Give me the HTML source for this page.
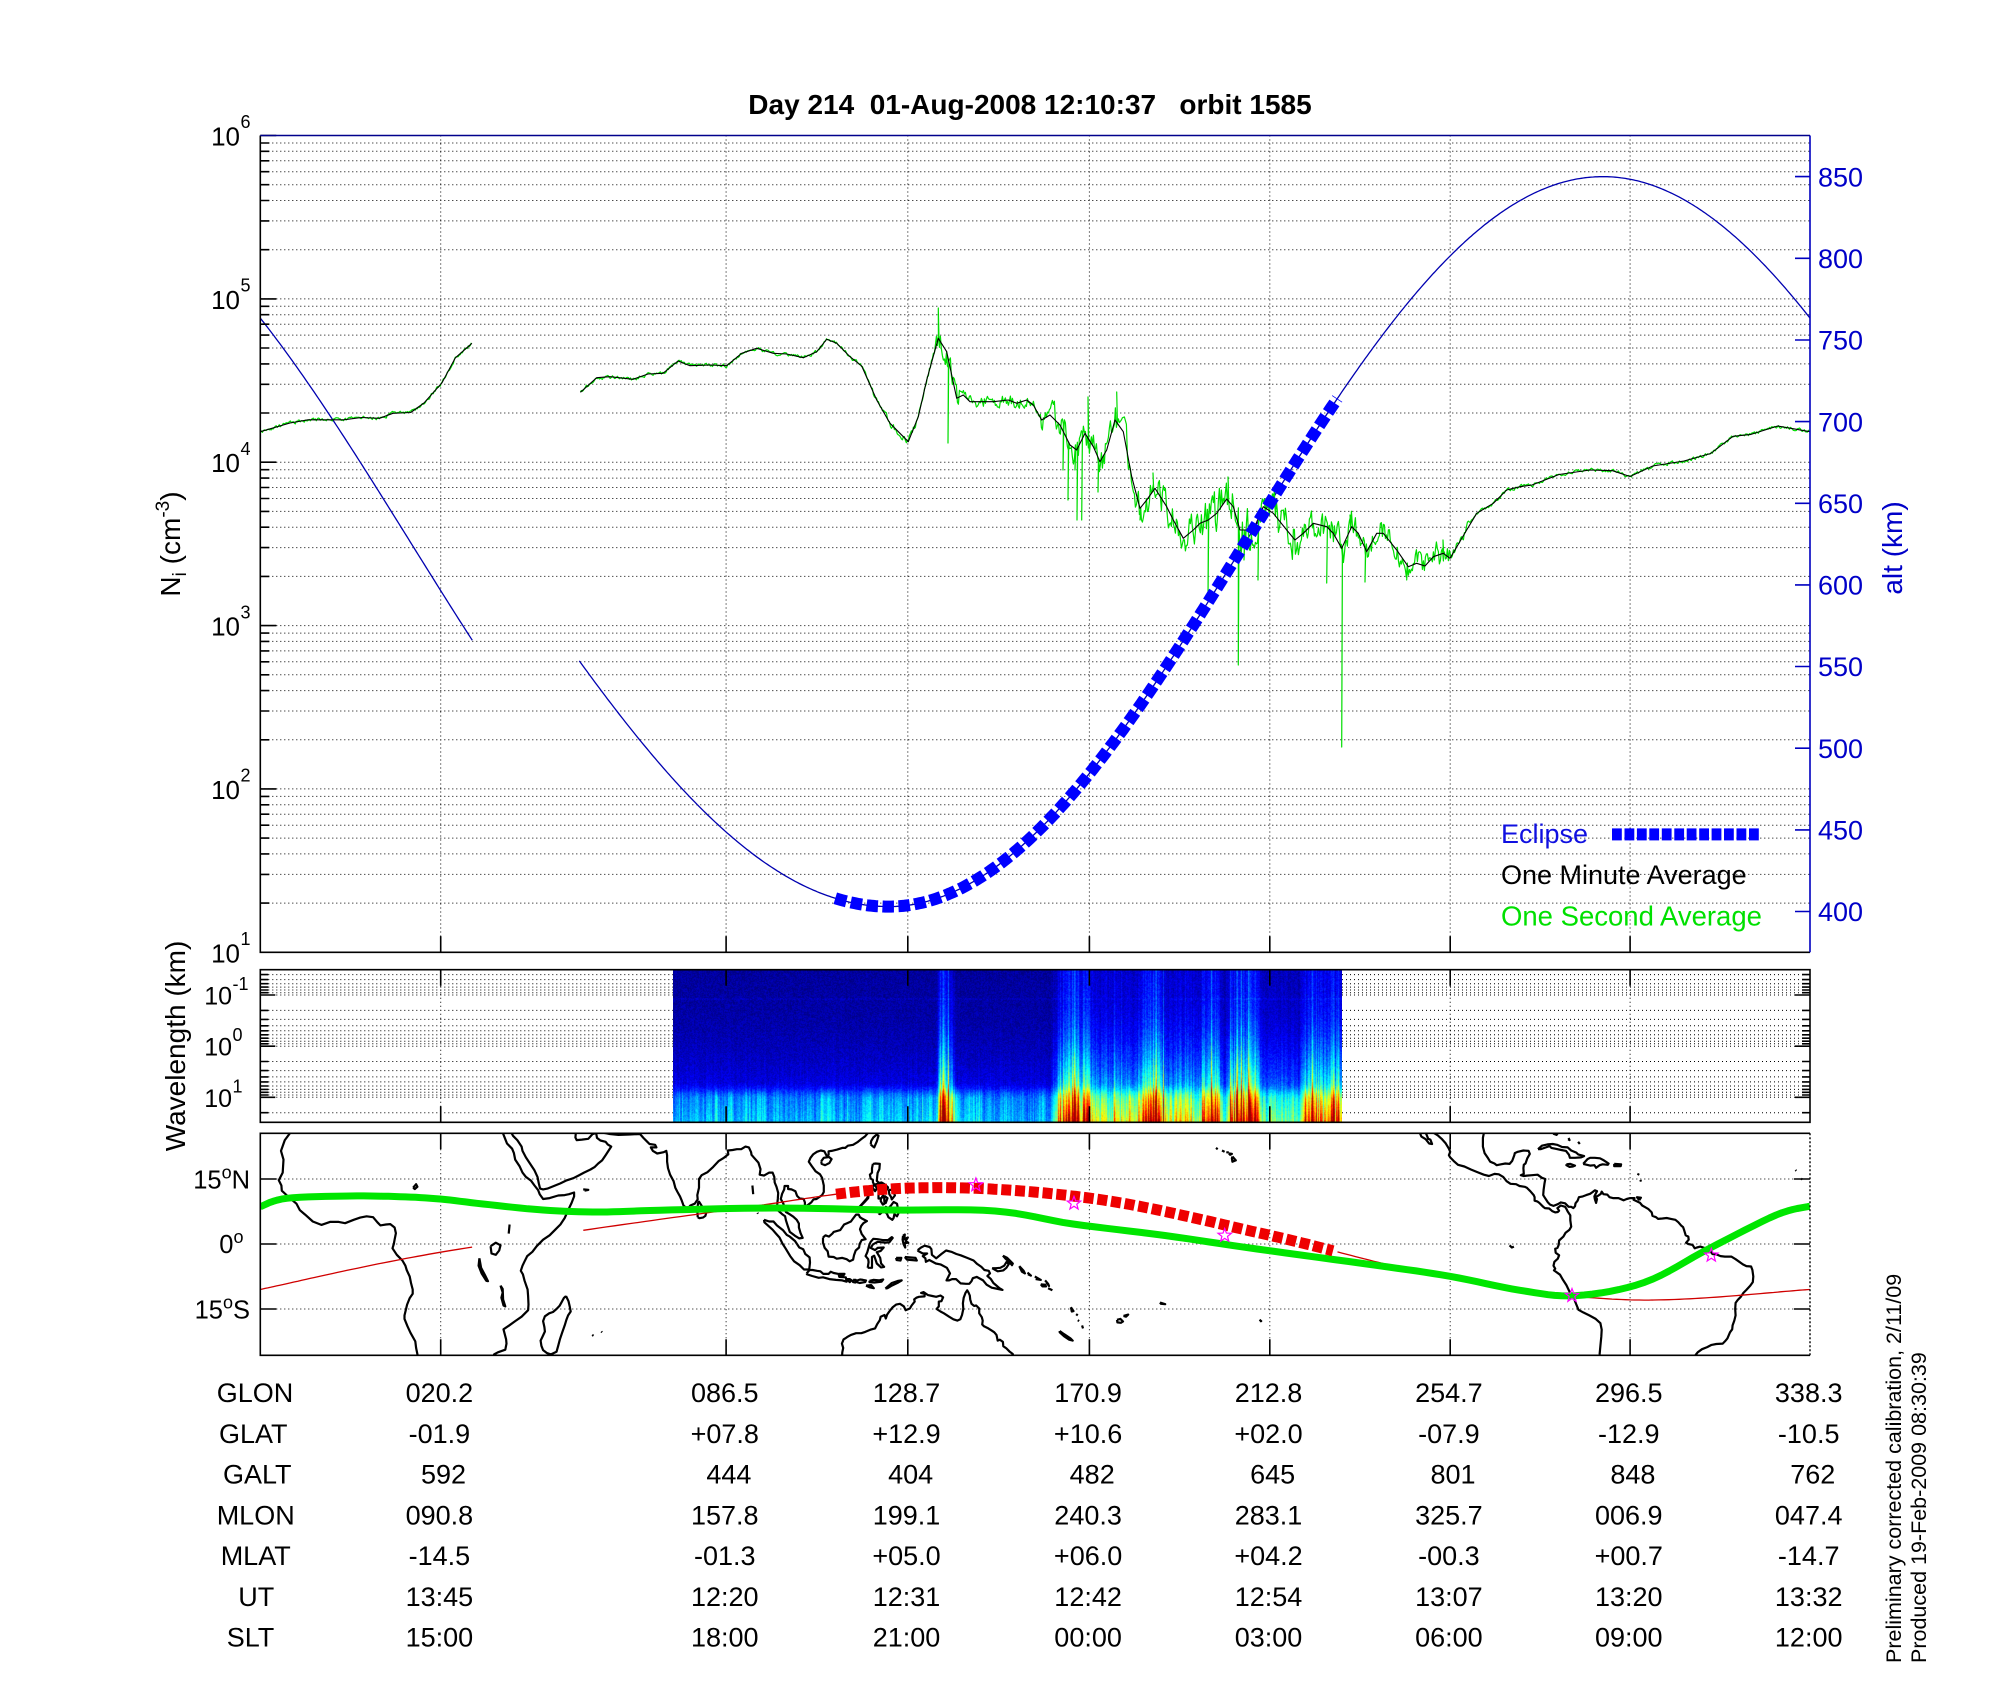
<!DOCTYPE html>
<html><head><meta charset="utf-8"><title>Orbit 1585</title>
<style>
html,body{margin:0;padding:0;background:#fff;}
#wrap{position:relative;width:2000px;height:1700px;overflow:hidden;background:#fff;}
#spec{position:absolute;left:673px;top:970px;width:669px;height:152px;}
#main{position:absolute;left:0;top:0;}
text{font-family:"Liberation Sans",Arial,Helvetica,sans-serif;white-space:pre;}
</style></head><body><div id="wrap">
<canvas id="spec" width="669" height="152"></canvas>
<svg id="main" width="2000" height="1700" viewBox="0 0 2000 1700" xmlns="http://www.w3.org/2000/svg">
<defs>
<clipPath id="cm"><rect x="260.3" y="1133.3" width="1549.7" height="222"/></clipPath>
<clipPath id="cp"><rect x="260.3" y="135.5" width="1549.7" height="816.8"/></clipPath>
</defs>
<g id="grid" stroke="#000" stroke-width="1" stroke-dasharray="1 3" fill="none"></g>
<g id="map" clip-path="url(#cm)" fill="none"></g>
<g id="plot" clip-path="url(#cp)" fill="none"></g>
<g id="axes" fill="none"></g>

<text x="748.3" y="114" font-size="28" font-weight="bold" xml:space="preserve">Day 214  01-Aug-2008 12:10:37   orbit 1585</text>

<g font-size="26" fill="#000">
<text x="240" y="145.5" text-anchor="end">10</text><text x="240.5" y="128.2" font-size="18">6</text>
<text x="240" y="308.9" text-anchor="end">10</text><text x="240.5" y="291.6" font-size="18">5</text>
<text x="240" y="472.2" text-anchor="end">10</text><text x="240.5" y="454.9" font-size="18">4</text>
<text x="240" y="635.6" text-anchor="end">10</text><text x="240.5" y="618.3" font-size="18">3</text>
<text x="240" y="798.9" text-anchor="end">10</text><text x="240.5" y="781.6" font-size="18">2</text>
<text x="240" y="962.3" text-anchor="end">10</text><text x="240.5" y="945" font-size="18">1</text>
</g>
<text transform="translate(180,544) rotate(-90)" font-size="28" text-anchor="middle">N<tspan font-size="19" dy="6">i</tspan><tspan dy="-6"> (cm</tspan><tspan font-size="19" dy="-11">-3</tspan><tspan dy="11">)</tspan></text>

<g font-size="27" fill="#0000c8">
<text x="1818" y="186.4">850</text>
<text x="1818" y="268">800</text>
<text x="1818" y="349.6">750</text>
<text x="1818" y="431.3">700</text>
<text x="1818" y="512.9">650</text>
<text x="1818" y="594.6">600</text>
<text x="1818" y="676.2">550</text>
<text x="1818" y="757.9">500</text>
<text x="1818" y="839.6">450</text>
<text x="1818" y="921.2">400</text>
</g>
<text transform="translate(1902,548) rotate(-90)" font-size="28" text-anchor="middle" fill="#0000c8">alt (km)</text>

<text x="1501" y="843" font-size="27" fill="#1010e0">Eclipse</text>
<text x="1501" y="884.2" font-size="27" fill="#000">One Minute Average</text>
<text x="1501" y="925.6" font-size="27.5" fill="#00e000">One Second Average</text>
<g id="leg" fill="#0000ff"></g>

<g font-size="25">
<text x="232" y="1004.5" text-anchor="end">10</text><text x="232.5" y="990" font-size="18">-1</text>
<text x="232" y="1055.7" text-anchor="end">10</text><text x="232.5" y="1041.2" font-size="18">0</text>
<text x="232" y="1106.8" text-anchor="end">10</text><text x="232.5" y="1092.3" font-size="18">1</text>
</g>
<text transform="translate(185,1046) rotate(-90)" font-size="28" text-anchor="middle">Wavelength (km)</text>

<g font-size="25.5">
<text x="250" y="1188.5" text-anchor="end">15<tspan font-size="18" dy="-10">o</tspan><tspan dy="10">N</tspan></text>
<text x="243.5" y="1253.2" text-anchor="end">0<tspan font-size="18" dy="-10">o</tspan></text>
<text x="250" y="1318.5" text-anchor="end">15<tspan font-size="18" dy="-10">o</tspan><tspan dy="10">S</tspan></text>
</g>

<g font-size="27">
<text x="216.7" y="1402.2">GLON</text>
<text x="219" y="1443">GLAT</text>
<text x="223" y="1483.7">GALT</text>
<text x="216.7" y="1524.5">MLON</text>
<text x="220.7" y="1565.2">MLAT</text>
<text x="238.3" y="1606">UT</text>
<text x="226.7" y="1646.7">SLT</text>
</g>
<g font-size="27" text-anchor="middle" id="tbl"></g>

<text transform="translate(1901,1663) rotate(-90)" font-size="21.5">Preliminary corrected calibration, 2/11/09</text>
<text transform="translate(1926,1663) rotate(-90)" font-size="21.5">Produced 19-Feb-2009 08:30:39</text>
</svg></div>
<script>
(function(){
var NS='http://www.w3.org/2000/svg';
function mk(par,tag,at){var e=document.createElementNS(NS,tag);for(var k in at)e.setAttribute(k,at[k]);par.appendChild(e);return e;}
function pth(p){var s='';for(var i=0;i<p.length;i++){s+=(i?'L':'M')+p[i][0].toFixed(1)+' '+p[i][1].toFixed(1);}return s;}
var seed=20080801;
function R(){seed|=0;seed=seed+0x6D2B79F5|0;var t=Math.imul(seed^seed>>>15,1|seed);t=t+Math.imul(t^t>>>7,61|t)^t;return((t^t>>>14)>>>0)/4294967296;}
function cr(P,st){var o=[];for(var i=0;i<P.length-1;i++){var p0=P[Math.max(0,i-1)],p1=P[i],p2=P[i+1],p3=P[Math.min(P.length-1,i+2)];
 for(var s=0;s<st;s++){var t=s/st,t2=t*t,t3=t2*t;var q=[0,0];for(var j=0;j<2;j++){q[j]=0.5*((2*p1[j])+(-p0[j]+p2[j])*t+(2*p0[j]-5*p1[j]+4*p2[j]-p3[j])*t2+(-p0[j]+3*p1[j]-3*p2[j]+p3[j])*t3);}o.push(q);}}
 o.push(P[P.length-1]);return o;}
function interp(P,x){for(var i=0;i<P.length-1;i++){if(x<=P[i+1][0]){var t=(x-P[i][0])/(P[i+1][0]-P[i][0]);return P[i][1]+t*(P[i+1][1]-P[i][1]);}}return P[P.length-1][1];}

var L=260.3,Rt=1810,T=135.5,B=952.3;
var XG=[440.7,726.1,907.8,1089.4,1269.8,1450.2,1630.1];
function yN(v){return T+(6-Math.log10(v))*163.36;}
var ST=969.7,SB=1122.3;function yS(v){return 995+(Math.log10(v)+1)*51.15;}
var MT=1133.3,MB=1355.3;
function X(lon){return L+(((lon-338.3)%360+360)%360)*4.305;}
function Y(lat){return 1244-lat*4.33;}
var grid=document.getElementById('grid'),axes=document.getElementById('axes'),plot=document.getElementById('plot'),map=document.getElementById('map');

var d='';
for(var k=1;k<=5;k++)for(var m=1;m<=9;m++){var y=yN(m*Math.pow(10,k));d+='M'+L+' '+y.toFixed(1)+'H'+Rt;}
XG.forEach(function(x){d+='M'+x+' '+T+'V'+B;});
var sv=[],svm=[];
for(var k=-2;k<=1;k++)for(var m=1;m<=9;m++){var v=m*Math.pow(10,k);var y=yS(v);if(y>ST+1&&y<SB-1){sv.push(y);svm.push(m==1);}}
sv.forEach(function(y){d+='M'+L+' '+y.toFixed(1)+'H673M1342 '+y.toFixed(1)+'H'+Rt;});
XG.forEach(function(x){if(x<673||x>1342)d+='M'+x+' '+ST+'V'+SB;});
[15,0,-15].forEach(function(l){d+='M'+L+' '+Y(l).toFixed(1)+'H'+Rt;});
XG.forEach(function(x){d+='M'+x+' '+MT+'V'+MB;});
mk(grid,'path',{d:d});

var C=[
[-13,27.5,-14.5,26,-16,24,-16.9,21.5,-16.3,19.5,-16.5,16.5,-17.4,14.7,-16.8,13.5,-16.7,12.3,-15.5,11.2,-14.5,10.3,-13.3,9.3,-12.5,7.8,-11.3,6.8,-9.5,5.2,-7.5,4.4,-5.5,5.1,-3.5,5.1,-2,4.8,0,5.6,1.5,6.1,3,6.4,4.5,6.2,5.5,5,6.2,4.3,7.5,4.5,8.5,4.6,9.5,3.8,9.8,2.5,9.5,1,9.3,0,9,-1,10,-2.5,11.3,-3.8,12,-5,12.3,-6,13,-7.5,13.3,-9,13.7,-10.5,13.7,-11.5,13,-12.5,12.4,-14,11.8,-16.5,11.8,-17.3,12.5,-19,13.2,-20.5,14.3,-22.5,14.5,-24,14.9,-26,15.2,-27.5],
[32.7,-27,32.9,-26,32.6,-25.5,33.5,-25,35.2,-24.4,35.5,-23,35.4,-22,35,-20.5,34.8,-19.7,36,-18.9,37.5,-17.8,39,-16.8,40.5,-15.3,40.6,-14,40.5,-12,40.4,-10.5,39.7,-8.5,39.3,-7,38.8,-6.2,39.2,-5,39.7,-4,40.3,-2.8,41.5,-1.8,42.5,-0.5,44,1,45.5,2,47,3.5,48,4.5,49,6,49.9,8,50.6,9.5,51.2,11,51.2,11.9,50,11.5,49,11.3,47.5,11.2,45.5,10.6,44,10.4,43.2,11.5,42.8,12.5,42,13.5,41.2,14.6,40,15.5,39.2,16.5,38.5,18,37.5,19.5,37.2,21,36.8,22,35.6,23.2,35.2,24.2,34.7,25.5,34,27,33.5,28],
[35,28,35.5,27.5,36.3,26.3,37,25,38,24,39,22.5,39.2,21.5,40,20,41,18.5,42,17,42.7,15.5,43,14,43.3,12.8,44,12.6,45,12.8,46.5,13.4,48,14,49.5,14.7,51,15.2,52.2,15.8,53.5,16.5,55,17.2,56,17.8,56.8,18.6,57.7,19.3,58.5,20.5,59.3,21.7,59.8,22.5,59,23,58.5,23.6,57.3,23.9,56.5,24.5,56.3,25.7,56.1,26.3,56.5,27],
[56.2,25.6,55.5,25.4,54.5,24.3,53,24.1,51.8,24,51.5,24.6,51.6,25.8,51.3,26.5],
[56.8,27,57.3,25.8,58.5,25.6,59.5,25.4,61.5,25.2,64,25.3,66.5,25.4,67.3,24.5,68.2,23.6,68.7,23.1,70,22.9,70.3,22.3,69,22.3,69.5,21.5,70.5,20.9,72,21.2,72.6,21.5,72.8,20.5,72.8,19,73,17.5,73.5,16,74.3,14.5,74.7,13,75.2,12,75.8,11,76.2,10,76.6,8.9,77.5,8.1,78.2,8.9,79.2,9.3,79.9,10.3,79.8,11.3,80.2,13,80.2,15,80.8,15.9,82.2,16.6,83.5,17.8,84.8,19.2,86,19.9,87,20.7,86.9,21.6,88,21.7,89,21.9,90,21.9,91,22.5,91.8,22.3,92.3,21.2,92.4,20.6,93,19.9,94,18.8,94.5,17.3,94.3,16,95.3,15.8,96.5,16.5,97.3,16.5,97.7,15.5,97.8,14.2,98.2,13.2,98.6,11.8,98.5,10.4,98.3,8.5,98.4,7.9,99.5,6.9,100.2,6.4,100.4,5.5,100.8,4.2,101.3,2.8,102.5,1.9,103.5,1.3,104.3,1.4,103.8,2.5,103.4,3.8,103.4,4.7,102.9,5.6,102.1,6.3,101.2,6.9,100.4,7.4,100.1,8.2,99.8,9.3,99.2,10.4,99.5,11.6,100,12.6,100.1,13.4,100.9,13.4,100.9,12.7,101.7,12.6,102.6,12.2,103,11.1,103.6,10.5,104.5,10.4,104.8,9.6,104.8,8.6,105.5,9,106.3,9.6,106.8,10.3,107.5,10.4,108.8,11.3,109.2,12,109.2,13.5,108.8,15.3,108.3,16.1,107.3,16.8,106.4,18,105.7,19,106.1,19.9,106.7,20.7,107.6,21.3,108.5,21.6,109.3,21.4,109.9,20.3,110.3,20.6,110.3,21.4,111,21.5,112.3,21.8,113.5,22.2,114.2,22.2,114.8,22.7,116,22.9,117,23.5,118,24.3,118.8,24.9,119.5,25.7,119.7,26.5,120.2,27.2],
[79.9,6.2,79.8,8,80,9.5,80.2,9.8,80.9,8.7,81.5,7.6,81.9,7.3,81.7,6.5,81.1,6.1,80.3,5.95,79.9,6.2],
[108.6,19.1,109.2,19.9,110.4,20.1,111,19.6,110.5,18.7,109.5,18.2,108.7,18.5,108.6,19.1],
[120.1,23,120.2,23.8,120.7,24.6,121.5,25.3,121.9,25,121.5,23.7,120.9,22.3,120.5,22.6,120.1,23],
[120.6,18.5,121.2,18.6,122.2,18.5,122.1,17.3,121.7,16.4,121.6,15.6,121.5,14.6,122,14.1,122.6,14.2,123.3,13.8,124.1,13.1,124,12.6,123.3,13,122.7,13.4,122.6,13.9,121.7,13.9,120.9,13.7,120.6,14.3,120.6,14.8,120.1,15.1,119.9,16,120.4,16.5,120.4,17.5,120.6,18.5],
[121.9,7,122.1,7.7,122.8,7.7,123.5,7.9,123.6,8.6,124.2,8.3,124.8,8.9,125.4,9.7,126.2,9.3,126.4,8.2,126.6,7.2,126.2,6.4,125.6,6.9,125.4,6,125.1,5.6,124.2,6.2,123.9,6.9,123.5,7.4,122.8,7.4,122.2,6.9,121.9,7],
[124.3,12.5,125.3,12.5,125.7,11.2,125,10.3,124.8,10.9,124.4,11.5,124.3,12.5],
[121.9,11.9,122.6,11.6,123.1,11.1,122.5,10.5,121.9,10.5,121.9,11.9],
[122.5,10.8,123.2,10.9,123.3,9.3,122.9,9.1,122.4,9.9,122.5,10.8],
[123.3,11.1,124,10.6,123.6,9.5,123.3,10,123.3,11.1],
[117.2,8.3,117.8,8.8,118.6,9.6,119.5,10.6,119.6,11.3,119.2,10.5,118.2,9.4,117.2,8.3],
[120.3,13.4,121.2,13.5,121.5,12.8,121.1,12.2,120.3,13.4],
[109,1.5,109.6,2,110.4,1.7,111.2,2.4,111.5,2.8,113,3.2,113.9,4.5,114.6,4.8,115.5,5.2,116,5.9,116.7,6.8,117.3,6.8,117.6,6.2,118.2,5.8,119.2,5.3,118.4,4.8,117.9,4.2,117.6,3.4,118,2.3,118.9,1.1,118,0.9,117.5,0,117.4,-0.8,116.6,-1.5,116.2,-2.6,116,-3.6,115.2,-4,114.5,-3.5,113.5,-3.2,112.2,-3.4,111.5,-3,110.3,-2.9,110.1,-1.7,109.4,-0.9,109,0.3,109,1.5],
[119.4,-5.5,119.6,-4.2,119.5,-3.5,118.9,-2.8,119.3,-1.9,119.8,-0.1,120.1,0.5,120.7,1.2,121.7,1.1,122.9,0.9,124.1,0.9,125,1.6,125.2,1.4,124.4,0.4,123.5,0.3,121.7,0.5,120.6,-0.1,120.1,-0.9,121.1,-1.4,121.7,-0.9,123.1,-0.8,122.4,-1.6,121.5,-1.9,122.3,-3.2,122.5,-4.5,123.2,-5.3,122.5,-5.4,121.5,-4.5,120.9,-2.7,120.4,-3,120.4,-5.5,119.4,-5.5],
[127.6,1.9,128,2.2,127.9,1.1,128.7,1.5,128.2,0.7,128.8,0.3,128,0.2,128.1,-0.8,127.7,0,127.5,1,127.6,1.9],
[128,-3,130.5,-3.2,130.8,-3.8,128.5,-3.6,128,-3],[126,-3.2,127.2,-3.2,127,-3.8,126.1,-3.7,126,-3.2],
[95.3,5.6,96.5,5.2,97.5,5.2,98.3,4.3,99.7,3.2,100.6,2.1,101.3,1.7,102.5,0.7,103.5,-0.8,104.4,-1.2,104.9,-2.3,105.9,-3.1,106,-4.3,105.8,-5.9,104.6,-5.9,103.6,-4.9,102.3,-4,101.4,-2.8,100.3,-1,99.6,0.1,98.9,1.5,98.1,2.4,97.3,3.3,96.4,4.1,95.4,5,95.3,5.6],
[105.2,-6.8,105.9,-6,106.6,-6,107.6,-6.2,108.4,-6.3,109.1,-6.9,110.3,-6.9,110.8,-6.4,111.5,-6.7,112.6,-6.9,112.8,-7.6,114.3,-7.7,114.5,-8.7,113.5,-8.4,112,-8.3,110.5,-8.1,109,-7.7,108,-7.8,106.5,-7.4,105.3,-7,105.2,-6.8],
[112.7,-6.9,114,-6.9,113.8,-7.2,112.7,-7.2],[114.5,-8.1,115.2,-8.1,115.7,-8.4,115.2,-8.8,114.5,-8.1],[116,-8.3,116.6,-8.3,116.5,-8.9,116,-8.8,116,-8.3],
[116.8,-8.5,117.6,-8.2,118.3,-8.3,119,-8.4,118.8,-8.8,117.5,-9,116.8,-8.8,116.8,-8.5],[119.8,-8.5,120.7,-8.3,122,-8.4,123,-8.2,122.6,-8.7,121,-8.9,119.8,-8.8,119.8,-8.5],
[119,-9.6,120.2,-9.5,120.8,-10.2,119.8,-10,119,-9.6],[123.5,-10.3,124.3,-9.6,125,-9,126.5,-8.5,127.3,-8.4,126.5,-8.9,125,-9.6,124,-10.2,123.5,-10.3],
[131,-1.4,131.8,-0.8,132.6,-0.4,133.8,-0.7,134.2,-1.2,134.3,-2.5,135.3,-3.3,136.5,-2.3,137.6,-1.5,138.8,-1.8,140,-2.3,141,-2.6,142.5,-3.2,144,-3.8,144.8,-4.6,145.8,-5.3,146.5,-6,147.5,-6.2,147.8,-6.8,147.2,-7.4,148,-8.1,148.6,-9,149.3,-9.6,150,-10.2,150.7,-10.6,149.7,-10.4,148.2,-10.1,147,-9.4,146.2,-8.4,144.7,-7.6,143.8,-7.9,143.5,-8.6,143,-9.2,142.2,-9.2,141,-9.1,139.9,-8.1,139,-8.1,138.3,-8.4,137.7,-8.4,138.2,-7.4,138.5,-6.8,137.8,-5.5,136.3,-4.7,135.2,-4.5,133.7,-3.7,132.9,-4.1,132.8,-3.3,132.2,-2.8,133.2,-2.2,132.2,-2.2,131.1,-1.6,131,-1.4],
[148.3,-5.6,149.2,-5.6,150.2,-5.5,151.1,-5,151.6,-4.2,152.2,-4.6,151.6,-5.5,150.9,-6.1,149.6,-6.3,148.3,-5.6],[150.8,-2.7,151.8,-3.2,152.5,-3.9,153.1,-4.5,152.9,-4.9,152.3,-4.2,151.4,-3.4,150.8,-2.7],
[154.6,-5.1,155.6,-6.2,155.9,-6.8,155.2,-6.4,154.6,-5.1],[156.5,-6.6,157.3,-7.3,156.6,-7.0],[158.2,-7.5,159.6,-8.3,158.4,-8.1],[159.6,-9.3,160.6,-9.4,160.8,-9.8,160,-9.8,159.6,-9.3],[160.6,-8.4,161.3,-9.2,161.5,-9.7,160.9,-8.9],[161.3,-10.2,162.3,-10.7],
[166.6,-14.6,167.2,-15.5,166.8,-15.6,166.6,-14.6],[167.8,-16.2,168.2,-16.5],[168.2,-17.6,168.5,-17.8],[169.2,-18.8,169.4,-19.5],
[164,-20.1,165,-20.8,166.5,-21.8,167,-22.3,166.2,-22.1,165,-21.3,164,-20.4,164,-20.1],
[177.3,-17.5,178.1,-17.3,178.7,-17.9,178.2,-18.2,177.4,-18.1,177.3,-17.5],[178.8,-16.6,179.9,-16.3,179.4,-16.8,178.8,-16.6],
[-172.7,-13.5,-171.5,-13.9,-172.5,-13.8,-172.7,-13.5],[-149.6,-17.5,-149.2,-17.8,-149.5,-17.8],
[-155.9,20.2,-155.1,19.3,-155.9,19,-156,19.8,-155.9,20.2],[-156.7,20.9,-156,20.8,-156.4,20.6,-156.7,20.9],[-158.3,21.6,-157.7,21.3],[-159.7,22.2,-159.3,21.9],[-157.3,21.2,-156.7,21.1],
[144.7,13.3,144.9,13.6],[134.5,7.3,134.6,7.6],[158.2,6.9,158.3,6.8],[92.6,13.5,92.8,11.5],[93.8,7.2,93.9,7.0],[53.3,12.6,54.5,12.5,53.6,12.3],[57.5,-20.2,57.7,-20.4],[55.4,-21,55.7,-21.2],
[113.4,-26.5,113.5,-25,113.7,-24,113.4,-23,113.8,-22,114.2,-21.8,114.6,-21.5,115.5,-21,116.7,-20.6,117.9,-20.6,118.8,-20.3,120,-19.8,121.1,-19.5,121.6,-18.5,122.2,-17.6,122.4,-16.8,123.3,-16.4,123.6,-17.2,123.9,-16.3,124.4,-15.6,125.2,-14.6,126,-14,126.9,-13.8,127.8,-14.4,128.2,-15.3,129.2,-14.9,129.6,-14.2,130.3,-13.3,130.2,-12.8,130.7,-12.4,131.3,-12.2,132.6,-12.1,132.6,-11.5,131.8,-11.3,132.4,-11.1,133.4,-11.8,134.4,-12,135.3,-12.2,136.3,-11.9,136.9,-12.3,136.5,-13.2,135.9,-13.3,135.9,-14.4,135.4,-15,136.3,-15.6,137.1,-16,138.3,-16.8,139.3,-17.4,140.2,-17.7,140.9,-17.4,141.3,-16.4,141.6,-15,141.5,-13.7,141.7,-12.4,142.1,-11.3,142.5,-10.7,142.8,-11.2,143.1,-11.9,143.2,-12.8,143.5,-13.8,144.1,-14.3,144.6,-14.2,145.3,-14.9,145.3,-16,145.9,-16.9,146.1,-17.7,146,-18.6,146.4,-19,147.4,-19.5,148.2,-20,148.8,-20.4,149.3,-21,149.6,-22.3,150.1,-22.1,150.8,-22.6,150.9,-23.6,151.6,-24.1,152.4,-24.9,153.1,-25.4,153.2,-26,153.1,-27],
[-110.5,27.5,-109.5,26.5,-109.2,25.7,-108.2,25.1,-107.3,24.3,-106.4,23.3,-105.6,22,-105.3,21.3,-105.6,20.5,-105.3,20,-104.5,19.2,-103.5,18.3,-102,17.9,-100.5,17.2,-99,16.6,-97.5,16,-96.3,15.7,-95,16.2,-94,16.1,-93,15.5,-92.2,14.5,-91.3,13.9,-90,13.8,-89.2,13.4,-88,13.2,-87.5,13,-87.3,12.8,-86.7,12.2,-85.9,11.3,-85.7,10.8,-85.7,10,-85,9.8,-84.6,9.5,-83.7,8.6,-83.3,8.3,-82.3,8.2,-81.6,7.6,-80.9,7.3,-80.3,7.4,-80,7.7,-80.4,8.3,-79.6,8.9,-78.6,8.6,-78.3,8.1,-78,7.5,-77.4,6.6,-77.4,5.5,-77.2,4,-77.6,3.3,-78.5,2.6,-79,1.7,-80,0.8,-80.1,-0.2,-80.4,-0.9,-80.9,-1.1,-80.8,-2,-80,-2.6,-80.3,-3.4,-81.1,-4.1,-81.3,-5,-80.9,-5.7,-81.2,-6.1,-79.8,-7.1,-79.1,-8.3,-78.3,-9.5,-77.6,-11,-76.6,-12.5,-76.2,-13.5,-75.5,-15.2,-74.4,-15.8,-73,-16.5,-71.5,-17.3,-70.4,-18.3,-70.1,-19.8,-70.2,-21.4,-70.4,-23.5,-70.6,-25.5,-70.9,-27.5],
[-114.5,27.5,-113.7,26.7,-112.5,26,-112,24.8,-111,24.2,-110.2,23.2,-109.5,23.1,-109.9,24.1,-110.4,24.3,-110.8,25.3,-111.4,26.5,-112.2,27.5],
[-97.2,27.5,-97.4,26,-97.7,24.5,-97.7,22.5,-97.3,21,-96.5,19.8,-96,19,-95,18.6,-94.5,18.2,-93.5,18.4,-92.5,18.6,-91.5,18.5,-90.9,19.2,-90.4,20.5,-90.3,21,-89.6,21.3,-88.3,21.6,-87.1,21.5,-86.8,20.8,-87.4,19.8,-87.8,18.6,-88.2,18.3,-88.3,17.5,-88.2,16.2,-88.9,15.9,-88.2,15.7,-87.5,15.8,-86.3,15.9,-85,16,-84,15.3,-83.2,15,-83.4,14,-83.6,12.5,-83.7,11.3,-83.4,10.8,-82.6,9.6,-82.1,9.1,-81.3,8.8,-80.3,9.2,-79.6,9.6,-78.6,9.4,-77.8,8.6,-77.2,8.6,-76.7,8.3,-76.3,8.7,-76.2,9.4,-75.7,10,-75.4,10.8,-74.5,11,-73.7,11.3,-72.8,11.6,-72.2,12,-71.7,12.4,-71.2,12.2,-71.5,11.6,-71.8,11,-71.7,10.4,-71.4,9.5,-71.2,10.4,-71.5,10.9,-71,11.1,-70.3,11.6,-70.1,12.1,-69.7,11.5,-68.8,11.4,-68.3,10.8,-67.5,10.6,-66.2,10.6,-65,10.1,-64.3,10.4,-63.5,10.6,-62.5,10.6,-62.7,10.2,-61.8,9.8,-61.2,9.5,-60.7,8.9,-60,8.5,-59.3,8.1,-58.5,7.3,-58.3,6.5,-57.5,6.2,-57,5.8,-56,5.9,-55,6,-54,5.8,-53,5.6,-52.3,5,-51.6,4.2,-51.2,3.9,-51,3.3,-50.6,2,-50,1.7,-49.9,1,-50.5,0.3,-50,0,-49,-0.2,-48.5,-1,-48,-0.8,-47.2,-0.6,-46,-1,-45,-1.5,-44.4,-2.3,-43.5,-2.4,-42.5,-2.8,-41.5,-2.9,-40,-2.9,-39,-3.5,-38.3,-4,-37.3,-4.7,-36.5,-5.1,-35.4,-5.2,-35.1,-6,-34.9,-7.5,-35,-8.8,-35.6,-9.6,-36.5,-10.6,-37.2,-11.3,-37.8,-12.2,-38.5,-12.9,-39,-13.6,-39.1,-15,-39,-16.5,-39.3,-17.7,-39.7,-18.8,-39.8,-19.7,-40.3,-20.4,-40.9,-21.8,-41.5,-22.5,-42,-23,-43.5,-23.1,-44.6,-23.3,-45.6,-23.8,-46.8,-24.3,-47.8,-25,-48.6,-26,-48.6,-27],
[-84.9,21.9,-84,22.7,-82.7,23,-81.5,23.1,-80.5,22.9,-79.3,22.4,-78,22.3,-77.2,21.6,-76,21.1,-75.6,20.7,-74.2,20.3,-74.9,20,-76.3,19.9,-77.5,19.9,-77.7,20.6,-78.4,21.5,-79.5,21.7,-80.9,22,-81.8,22.2,-82.2,22.6,-83.4,22.2,-84.3,21.9,-84.9,21.9],
[-74.4,18.5,-73.4,19.6,-72.8,19.9,-71.7,19.9,-70.5,19.8,-69.6,19.3,-68.5,18.6,-68.7,18.3,-69.9,18.4,-70.6,18.2,-71.4,17.6,-71.8,18.2,-72.8,18.1,-74.4,18.5],
[-78.3,18.4,-77.4,18.5,-76.3,18.1,-76.8,17.9,-77.6,17.8,-78.3,18.2,-78.3,18.4],[-67.2,18.5,-65.6,18.4,-65.7,18,-67.2,18,-67.2,18.5],
[-82.2,27.5,-81.8,26.1,-81.2,25.4,-80.6,25.2,-80.3,25.6,-80.1,26.4,-80,27.5],
[-77.8,24.5,-77.6,24,-77.9,24.2],[-77.2,26.6,-78.7,26.6],[-75.6,23.6,-75.2,23.1],[-61.7,15.9,-61.5,16.3],[-61.1,14.8,-61,14.4],[-61.4,10.1,-61,10.7,-61.9,10.8,-61.4,10.1],
[-91.5,-0.3,-91,-0.8,-90.5,-0.6],[-23.8,15.1,-23.5,14.9],[-25.1,17.1,-24.9,16.9],
[31.8,-0.5,33,0.3,34.1,-0.3,33.8,-1.5,33,-2.5,32,-2.2,31.8,-0.5],[29.2,-3.3,29.6,-5.5,30.5,-7.2,31.2,-8.6,30.8,-8.5,29.7,-6.8,29,-5,29.2,-3.3],[34.1,-9.6,34.6,-11.2,34.3,-12.4,34.8,-14.2,35.2,-14.4,34.7,-12.8,34.6,-10.4,34.1,-9.6],[13.8,13,14.5,13.8,14.8,13.2,14.2,12.7,13.8,13],[36,2.4,36.2,4.5],
[49.3,-12,49.9,-13.2,50.2,-14.5,50.4,-15.6,49.8,-16.5,49.4,-17.5,49,-18.8,48.4,-20.5,47.9,-22,47.5,-23.5,47.1,-24.9,45.8,-25.5,44.9,-25.2,44,-24.5,43.6,-23.5,43.4,-22.3,43.8,-21.5,44.4,-20.2,44.3,-19.2,44,-17.8,44.4,-16.7,45.4,-16,46.3,-15.7,47.1,-15,47.8,-14.3,48.2,-13.6,48.8,-12.5,49.3,-12]
];
var cd='';
C.forEach(function(a){var p=[];for(var i=0;i<a.length;i+=2)p.push([X(a[i]),Y(a[i+1])]);cd+=pth(p);});
mk(map,'path',{d:cd,stroke:'#000','stroke-width':2.2,'stroke-linejoin':'round'});

var TP=[[260.3,Y(-10.5)],[440.7,Y(-1.9)],[726.1,Y(7.8)],[907.8,Y(12.9)],[1089.4,Y(10.6)],[1269.8,Y(2.0)],[1450.2,Y(-7.9)],[1630.1,Y(-12.9)],[1810,Y(-10.5)]];
var tr=cr(TP,40);
function seg(p,a,b){return p.filter(function(q){return q[0]>=a&&q[0]<=b;});}
var rd=pth(seg(tr,260.3,472.3))+pth(seg(tr,580.4,836))+pth(seg(tr,1336,1810));
mk(map,'path',{d:rd,stroke:'#d00000','stroke-width':1.3});
var GQ=[[260.3,1206.7],[286.7,1198.3],[350,1196],[400,1196.7],[440,1199],[483,1204],[543,1210],[600,1212],[660,1210.2],[774.8,1208],[889.6,1210],[995,1211],[1073,1224],[1165,1235.5],[1257,1249],[1376,1265.3],[1450,1276.3],[1520,1290.3],[1576,1295.6],[1644.7,1282.3],[1709.6,1248.3],[1776.2,1215],[1810,1206.2]];
mk(map,'path',{d:pth(cr(GQ,8)),stroke:'#00e600','stroke-width':7,'stroke-linejoin':'round'});
mk(map,'path',{d:pth(seg(tr,834.5,1337.2)),stroke:'#ee0000','stroke-width':11,'stroke-dasharray':'10 3.8'});
function star(cx,cy,r){var p=[];for(var i=0;i<10;i++){var rr=i%2?r*0.42:r;var a=-Math.PI/2+i*Math.PI/5;p.push([cx+rr*Math.cos(a),cy+rr*Math.sin(a)]);}return pth(p)+'Z';}
var sd='';[[975.9,1185],[1074,1203.3],[1224.7,1235.5],[1572,1295.6],[1711.3,1255.3]].forEach(function(s){sd+=star(s[0],s[1],7);});
mk(map,'path',{d:sd,stroke:'#ff00ff','stroke-width':1.2});

function yA(a){return 911.5-(a-400)*1.633;}
function altAt(x){var xe=x<520?x+1549.7:x;var ph=xe>=888.8?(xe-888.8)*0.0044:(xe-888.8)*0.004;return 626.5-223.5*Math.cos(ph);}
var a1=[],a2=[];
for(var x=260.3;x<=472.3;x+=2)a1.push([x,yA(altAt(x))]);
for(var x=579.3;x<=1810;x+=2)a2.push([x,yA(altAt(x))]);
a2.push([1810,yA(altAt(1810))]);
mk(plot,'path',{d:pth(a1)+pth(a2),stroke:'#0000b0','stroke-width':1.3});

var BA=[[260.3,431.7],[290,423],[308,419.8],[343.8,419.8],[361.6,417.5],[379.5,418.3],[392.9,413.3],[410.7,412.5],[424,403],[442,382.7],[455.4,357.8],[471.9,343.3]];
var BB=[[580.4,392.3],[596.7,377.7],[610,376.7],[633,379.3],[648,374],[663,373.3],[678,361],[690,365.7],[710,365],[726.7,365.7],[741.7,353.3],[756.7,348.3],[773.3,353.3],[786.7,354],[803.3,357.7],[816.7,351.7],[826.7,339.3],[836.7,343.3],[850,356.7],[861.7,366],[876.7,400],[890,423.3],[908.3,441.7],[918.3,416.7],[926.7,380],[938.3,338.3],[946.7,351.7],[956.7,398.3],[963.3,395],[970,401.7],[993.3,401.7],[1008.3,400],[1016.7,403.3],[1026.7,400],[1033.3,405],[1041.7,420],[1050,415],[1060,425],[1070,445],[1076.7,450],[1085,433.3],[1093.3,446.7],[1100,461.7],[1106.7,450],[1115,420],[1123.3,431.7],[1131.7,476.7],[1140,508.3],[1146.7,500],[1155,488.3],[1166.7,506.7],[1173.3,520],[1183.3,538.3],[1193.3,530],[1200,523.3],[1208.3,520],[1216.7,513.3],[1226.7,499],[1233.3,506.7],[1240,530],[1253.3,530],[1263.3,506.7],[1273.3,513.3],[1286.7,530],[1295,540],[1303.3,533.3],[1313.3,523.3],[1326.7,526.7],[1333.3,533.3],[1341.7,548.3],[1351.7,526.7],[1358.3,533.3],[1366.7,551.7],[1376.7,533.3],[1383.3,533.3],[1396.7,550],[1408.3,566.7],[1416.7,563.3],[1425,566],[1433.3,556.7],[1443.3,553.3],[1450,558.3],[1466.7,530],[1476.7,513.3],[1493.3,503.3],[1506.7,490],[1520,486.7],[1532,485],[1559,474.5],[1590,470],[1612.5,470.7],[1630,476.5],[1652.7,466],[1684,461],[1710.7,453.5],[1733,436.3],[1751,434.4],[1777.7,426],[1810,431.7]];
function amp(x){if(x<870)return 1.5;if(x<935)return 3;if(x<960)return 10;if(x<1040)return 5;if(x<1100)return 12;if(x<1200)return 14;if(x<1300)return 19;if(x<1350)return 14;if(x<1450)return 11;if(x<1470)return 5;return 1.5;}
var SPK=[[938.3,308],[946,363],[948,443],[1063,470],[1068,500],[1075,470],[1077,520],[1081.7,520],[1088,397],[1098,492],[1116.7,392],[1140,520],[1153,473],[1208,600],[1228,477],[1238.3,665],[1244,560],[1258,580],[1326.7,583],[1341.7,747],[1350,515],[1365,582],[1406.7,580],[1443,540]];
function green(P,spk){var o=[],n=0,si=0,x0=P[0][0],x1=P[P.length-1][0];
 for(var x=x0;x<=x1;x+=1){var yb=interp(P,x);n=0.45*n+(R()*2-1)*amp(x);o.push([x,yb+n]);
  while(si<spk.length&&spk[si][0]<=x){var s=spk[si];o.push([s[0],s[1]]);o.push([s[0]+0.7,interp(P,s[0]+0.7)]);si++;}}
 return o;}
mk(plot,'path',{d:pth(green(BA,[]))+pth(green(BB,SPK)),stroke:'#00dd00','stroke-width':1.2,'stroke-linejoin':'round'});
mk(plot,'path',{d:pth(BA)+pth(BB),stroke:'#000','stroke-width':1.1,'stroke-linejoin':'round'});
mk(plot,'path',{d:pth(seg(a2,835,1338)),stroke:'#0000ff','stroke-width':12,'stroke-dasharray':'11.5 4.5'});

var leg=document.getElementById('leg');
for(var i=0;i<12;i++)mk(leg,'rect',{x:(1612+i*12.45).toFixed(1),y:828.4,width:9.8,height:12});

var ax='M'+L+' '+T+'V'+B+'H'+Rt;
for(var k=1;k<=6;k++)for(var m=1;m<=9;m++){if(k==6&&m>1)break;var y=yN(m*Math.pow(10,k));ax+='M'+L+' '+y.toFixed(1)+'h'+(m==1?16:9);}
XG.forEach(function(x){ax+='M'+x+' '+B+'v-16';});
ax+='M'+L+' '+ST+'H'+Rt+'V'+SB+'H'+L+'Z';
sv.forEach(function(y,i){var l=svm[i]?15:8;ax+='M'+L+' '+y.toFixed(1)+'h'+l+'M'+Rt+' '+y.toFixed(1)+'h-'+l;});
XG.forEach(function(x){ax+='M'+x+' '+ST+'v16M'+x+' '+SB+'v-16';});
ax+='M'+Rt+' '+MT+'H'+L+'V'+MB+'H'+Rt;
[15,0,-15].forEach(function(l){var y=Y(l).toFixed(1);ax+='M'+L+' '+y+'h16M'+Rt+' '+y+'h-16';});
XG.forEach(function(x){ax+='M'+x+' '+MT+'v16M'+x+' '+MB+'v-16';});
mk(axes,'path',{d:ax,stroke:'#000','stroke-width':1.6});
mk(axes,'path',{d:'M'+Rt+' '+MT+'V'+MB,stroke:'#000','stroke-width':1.4,'stroke-dasharray':'2 2'});
var bl='M'+Rt+' '+T+'V'+B;for(var a=400;a<=850;a+=50)bl+='M'+Rt+' '+yA(a).toFixed(1)+'h-15';
mk(axes,'path',{d:bl,stroke:'#0000c0','stroke-width':1.6});
mk(axes,'path',{d:'M'+L+' '+T+'H'+Rt,stroke:'#00008c','stroke-width':1.6});

var tbl=document.getElementById('tbl');
var cols=[440.7,726.1,907.8,1089.4,1269.8,1450.2,1630.1,1810];
var rows=[
['020.2','086.5','128.7','170.9','212.8','254.7','296.5','338.3'],
['-01.9','+07.8','+12.9','+10.6','+02.0','-07.9','-12.9','-10.5'],
['592','444','404','482','645','801','848','762'],
['090.8','157.8','199.1','240.3','283.1','325.7','006.9','047.4'],
['-14.5','-01.3','+05.0','+06.0','+04.2','-00.3','+00.7','-14.7'],
['13:45','12:20','12:31','12:42','12:54','13:07','13:20','13:32'],
['15:00','18:00','21:00','00:00','03:00','06:00','09:00','12:00']];
rows.forEach(function(r,i){r.forEach(function(s,j){var t=mk(tbl,'text',{x:(cols[j]+(i==2?2.8:-1.3)).toFixed(1),y:(1402.2+i*40.75).toFixed(1)});t.textContent=s;});});

var cv=document.getElementById('spec'),ctx=cv.getContext('2d'),W=cv.width,H=cv.height,img=ctx.createImageData(W,H),D=img.data;
var bursts=[[945,7,0.85],[1075,16,1.0],[1117,25,0.45],[1153,11,0.95],[1183,18,0.5],[1211,9,0.9],[1245,16,1.0],[1282,20,0.3],[1322,19,0.8]];
function cl(t){return Math.max(0,Math.min(1,1.5-Math.abs(t)));}
function ss(a,b,u){var t=Math.max(0,Math.min(1,(u-a)/(b-a)));return t*t*(3-2*t);}
var prevBand=0.12;
for(var c=0;c<W;c++){var x=673+c,a=0.05;
 bursts.forEach(function(b){var dd=(x-b[0])/b[1];a=Math.max(a,b[2]*Math.exp(-0.5*dd*dd*dd*dd));});
 var cf=0.5+0.7*R();if(R()<0.12)cf+=0.5;
 var band=0.5*prevBand+0.5*(0.05+0.17*R());if(R()<0.1)band+=0.08;prevBand=band;
 var low=0.5+R();
 for(var r=0;r<H;r++){var u=r/(H-1);
  var v=0.022+0.02*u+band*ss(0.74,0.86,u)+0.09*low*u*u*u+a*cf*(0.14+0.66*Math.pow(u,2.5))+(R()-0.5)*0.07;
  if(r==28||r==29)v+=0.04*R();
  v=Math.max(0,Math.min(0.97,v));var i=(r*W+c)*4;D[i]=cl(4*v-3)*255;D[i+1]=cl(4*v-2)*255;D[i+2]=cl(4*v-1)*255;D[i+3]=255;}}
ctx.putImageData(img,0,0);
})();
</script>
</body></html>
